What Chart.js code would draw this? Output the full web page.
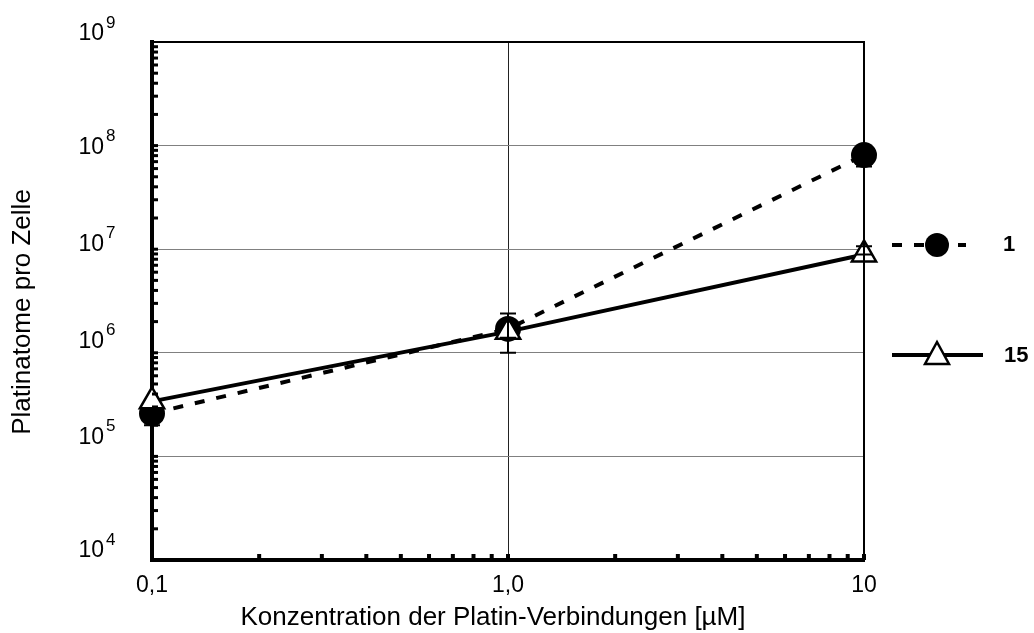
<!DOCTYPE html>
<html>
<head>
<meta charset="utf-8">
<script src="https://cdn.jsdelivr.net/npm/chart.js@4.4.1/dist/chart.umd.min.js"></script>
<style>
  html, body { margin: 0; padding: 0; background: #fff; }
  #wrap { width: 1034px; height: 633px; }
</style>
</head>
<body>
<div id="wrap"><canvas id="chart"></canvas></div>
<script>
// data
const concentrations = [0.1, 1, 10];
const series1 = [2.6e5, 1.7e6, 8.1e7];
const series1Low = [2.0e5, 1.4e6, 6.3e7];
const series1High = [2.6e5, 2.0e6, 8.1e7];
const series15 = [3.4e5, 1.6e6, 8.9e6];
const series15Low = [3.4e5, 1.0e6, 8.9e6];
const series15High = [3.4e5, 2.4e6, 1.07e7];
const seriesNames = ["1", "15"];

const xTickValues = [0.1, 1, 10];
const xTickLabels = ["0,1", "1,0", "10"];
const yTickValues = [1e4, 1e5, 1e6, 1e7, 1e8, 1e9];
const xTitle = "Konzentration der Platin-Verbindungen [µM]";
const yTitle = "Platinatome pro Zelle";

const FONT = "'Liberation Sans', Arial, sans-serif";
// the y labels in the original sit a little off their grid lines
const yLabelNudge = { 4: -10, 5: -20, 6: -12, 7: -6, 8: 1, 9: -9 };

function points(xs, ys) {
  return xs.map((x, i) => ({ x: x, y: ys[i] }));
}

// error bars
const errorBars = {
  id: "errorBars",
  afterDatasetsDraw(chart) {
    const ctx = chart.ctx;
    const xs = chart.scales.x, ys = chart.scales.y;
    const sets = [[series15Low, series15High], [series1Low, series1High]];
    ctx.save();
    ctx.strokeStyle = "#000";
    ctx.lineWidth = 2;
    sets.forEach(([lo, hi]) => {
      concentrations.forEach((c, i) => {
        const px = xs.getPixelForValue(c);
        const y1 = ys.getPixelForValue(lo[i]);
        const y2 = ys.getPixelForValue(hi[i]);
        if (Math.abs(y1 - y2) < 1) return;
        ctx.beginPath();
        ctx.moveTo(px, y1); ctx.lineTo(px, y2);
        ctx.moveTo(px - 8, y1); ctx.lineTo(px + 8, y1);
        ctx.moveTo(px - 8, y2); ctx.lineTo(px + 8, y2);
        ctx.stroke();
      });
    });
    ctx.restore();
  }
};

// frame, minor ticks, labels with superscripts, titles, legend
const decorations = {
  id: "decorations",
  afterDraw(chart) {
    const ctx = chart.ctx;
    const a = chart.chartArea;
    const xs = chart.scales.x, ys = chart.scales.y;
    ctx.save();
    ctx.fillStyle = "#000";
    ctx.strokeStyle = "#000";

    // top and right frame
    ctx.lineWidth = 2;
    ctx.beginPath();
    ctx.moveTo(a.left, a.top); ctx.lineTo(a.right, a.top); ctx.lineTo(a.right, a.bottom);
    ctx.stroke();

    // minor ticks on y axis
    for (let e = 4; e < 9; e++) {
      for (let m = 1; m <= 9; m++) {
        const v = m * Math.pow(10, e);
        if (v <= 1e4) continue;
        const py = ys.getPixelForValue(v);
        ctx.fillRect(a.left, py - 1.5, 6, 3);
      }
    }
    // minor ticks on x axis
    for (let e = -1; e < 1; e++) {
      for (let m = 1; m <= 9; m++) {
        const px = xs.getPixelForValue(m * Math.pow(10, e));
        ctx.fillRect(px - 2, a.bottom - 6, 4, 6);
      }
    }
    ctx.fillRect(xs.getPixelForValue(10) - 2, a.bottom - 6, 4, 6);

    // y tick labels 10^n
    ctx.textBaseline = "middle";
    yTickValues.forEach(v => {
      const exp = Math.round(Math.log10(v));
      const py = ys.getPixelForValue(v) + (yLabelNudge[exp] || 0);
      ctx.font = "23px " + FONT;
      ctx.textAlign = "right";
      ctx.fillText("10", 104, py + 1);
      ctx.font = "17px " + FONT;
      ctx.textAlign = "left";
      ctx.fillText(String(exp), 106, py - 10);
    });

    // axis titles
    ctx.font = "26px " + FONT;
    ctx.textAlign = "center";
    ctx.fillText(xTitle, 493, 618);
    ctx.save();
    ctx.translate(23, 312);
    ctx.rotate(-Math.PI / 2);
    ctx.fillText(yTitle, 0, 0);
    ctx.restore();

    // legend
    const lx0 = 892, lxm = 937;
    ctx.lineWidth = 4;
    ctx.setLineDash([10, 12]);
    ctx.beginPath();
    ctx.moveTo(lx0, 245); ctx.lineTo(966, 245);
    ctx.stroke();
    ctx.setLineDash([]);
    ctx.beginPath();
    ctx.arc(lxm, 245, 12, 0, Math.PI * 2);
    ctx.fill();
    ctx.beginPath();
    ctx.moveTo(lx0, 355); ctx.lineTo(983, 355);
    ctx.stroke();
    ctx.lineWidth = 2.5;
    ctx.fillStyle = "#fff";
    ctx.beginPath();
    ctx.moveTo(lxm, 342); ctx.lineTo(lxm + 12, 364); ctx.lineTo(lxm - 12, 364);
    ctx.closePath();
    ctx.fill(); ctx.stroke();
    ctx.fillStyle = "#000";
    ctx.font = "bold 22px " + FONT;
    ctx.textAlign = "left";
    ctx.fillText(seriesNames[0], 1003, 245);
    ctx.fillText(seriesNames[1], 1004, 356);
    ctx.restore();
  }
};

new Chart(document.getElementById("chart"), {
  type: "line",
  data: {
    datasets: [
      {
        label: seriesNames[1],
        data: points(concentrations, series15),
        borderColor: "#000",
        borderWidth: 4,
        pointStyle: "triangle",
        pointRadius: 14,
        pointBackgroundColor: "#fff",
        pointBorderColor: "#000",
        pointBorderWidth: 2.5,
        tension: 0,
        clip: false
      },
      {
        label: seriesNames[0],
        data: points(concentrations, series1),
        borderColor: "#000",
        borderWidth: 4,
        borderDash: [10, 12],
        pointStyle: "circle",
        pointRadius: 13,
        pointBackgroundColor: "#000",
        pointBorderColor: "#000",
        pointBorderWidth: 0,
        tension: 0,
        clip: false
      }
    ]
  },
  options: {
    responsive: true,
    maintainAspectRatio: false,
    animation: false,
    layout: { padding: { top: 42, right: 170, left: 0, bottom: 0 } },
    plugins: {
      legend: { display: false },
      tooltip: { enabled: false }
    },
    scales: {
      x: {
        type: "logarithmic",
        min: 0.1,
        max: 10,
        afterBuildTicks: s => { s.ticks = xTickValues.map(v => ({ value: v })); },
        afterFit: s => { s.height = 73; },
        border: { color: "#000", width: 4 },
        grid: {
          drawTicks: false,
          color: c => (c.tick && c.tick.value === 1 ? "#222" : "rgba(0,0,0,0)"),
          lineWidth: 1
        },
        ticks: {
          color: "#000",
          padding: 12,
          maxRotation: 0,
          font: { family: FONT, size: 23 },
          callback: (v, i) => xTickLabels[i]
        }
      },
      y: {
        type: "logarithmic",
        min: 1e4,
        max: 1e9,
        afterBuildTicks: s => { s.ticks = yTickValues.map(v => ({ value: v })); },
        afterFit: s => { s.width = 152; },
        border: { color: "#000", width: 4 },
        grid: {
          drawTicks: false,
          color: c => (c.tick && (c.tick.value === 1e4 || c.tick.value === 1e9) ? "rgba(0,0,0,0)" : "#808080"),
          lineWidth: 1
        },
        ticks: { display: false }
      }
    }
  },
  plugins: [errorBars, decorations]
});
</script>
</body>
</html>
